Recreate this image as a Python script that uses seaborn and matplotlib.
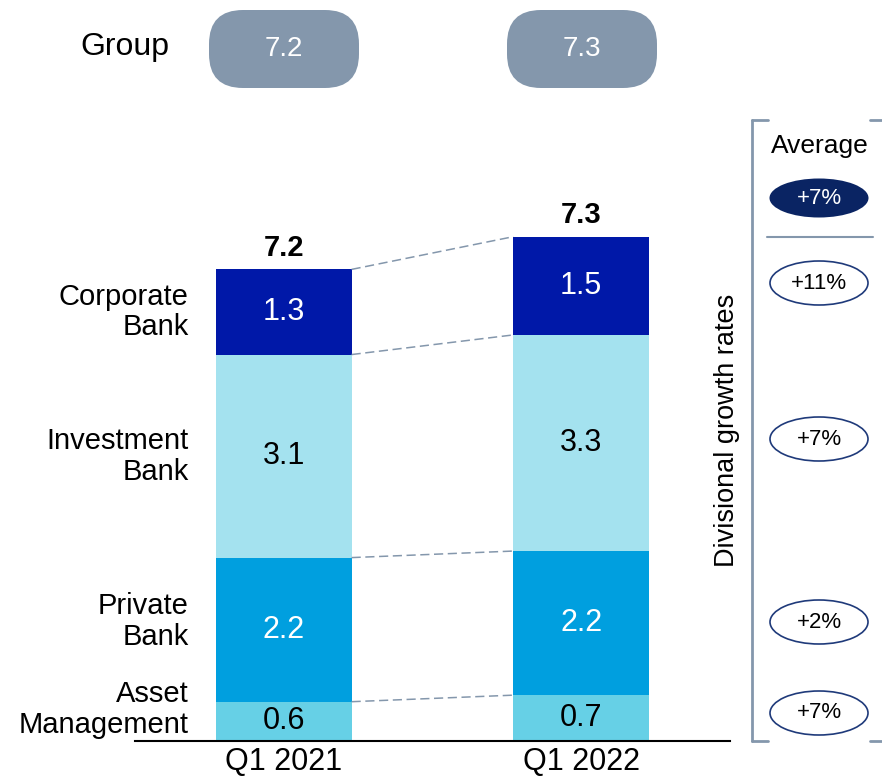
import numpy as np
import matplotlib
matplotlib.use("Agg")
import matplotlib.pyplot as plt
from matplotlib.patches import FancyBboxPatch, Ellipse
import seaborn as sns

# data
periods = ["Q1 2021", "Q1 2022"]
group_totals = ["7.2", "7.3"]
segments = ["Asset\nManagement", "Private\nBank", "Investment\nBank", "Corporate\nBank"]
asset_mgmt = [0.6, 0.7]
private_bank = [2.2, 2.2]
investment_bank = [3.1, 3.3]
corporate_bank = [1.3, 1.5]
growth_rates = ["+7%", "+2%", "+7%", "+11%"]
average_growth = "+7%"

seg_values = [asset_mgmt, private_bank, investment_bank, corporate_bank]
seg_colors = ["#66D0E6", "#009FDF", "#A4E2EF", "#0018A8"]
seg_text = ["black", "white", "black", "white"]

sns.set_theme(style="white")
plt.rcParams["font.family"] = ["Liberation Sans", "DejaVu Sans"]
plt.rcParams["text.color"] = "black"
plt.rcParams["xtick.color"] = "black"
plt.rcParams["xtick.labelcolor"] = "black"

fig = plt.figure(figsize=(8.82, 7.79), dpi=100)
ax = fig.add_axes([135 / 882, 38 / 779, 595 / 882, 8.3 * 65.5 / 779])

vals = np.array(seg_values)
tops = np.cumsum(vals, axis=0)
bottoms = tops - vals
bar_w = 0.456

# stacked bars drawn as overlapping cumulative layers, tallest first
for i in range(len(segments) - 1, -1, -1):
    sns.barplot(x=periods, y=tops[i], color=seg_colors[i], width=bar_w,
                saturation=1, errorbar=None, edgecolor="none", ax=ax)

ax.set_xlim(-0.5, 1.5)
ax.set_ylim(0, 8.3)
sns.despine(ax=ax, left=True, top=True, right=True)
ax.spines["bottom"].set_color("black")
ax.spines["bottom"].set_linewidth(1.5)
ax.set_yticks([])
ax.set_ylabel("")
ax.set_xlabel("")
ax.tick_params(axis="x", length=0, labelsize=22, pad=4, labelcolor="black")

# segment values
for i in range(len(segments)):
    for j in range(len(periods)):
        ax.text(j, bottoms[i, j] + vals[i, j] / 2, f"{vals[i, j]:.1f}",
                ha="center", va="center", fontsize=22, color=seg_text[i])

# totals above bars
for j in range(len(periods)):
    ax.text(j, tops[-1, j] + 0.12, group_totals[j], ha="center", va="bottom",
            fontsize=21, color="black", fontweight="bold")

# dashed connectors
for i in range(len(segments)):
    ax.plot([0 + bar_w / 2, 1 - bar_w / 2], [tops[i, 0], tops[i, 1]],
            ls=(0, (6, 3)), color="#8497AC", lw=1.1)

# segment names on the left
label_shift = [0.0, 0.12, 0.0, 0.0]
for i, name in enumerate(segments):
    y = bottoms[i, 0] + vals[i, 0] / 2 + label_shift[i]
    if i == 0:
        y = vals[0, 0] * 0.8
    ax.text(-0.32, y, name, ha="right", va="center", fontsize=21,
            linespacing=1.13, color="black")

# overlay in pixel coordinates for annotations
ov = fig.add_axes([0, 0, 1, 1])
ov.set_xlim(0, 882)
ov.set_ylim(779, 0)
ov.axis("off")
ov.patch.set_alpha(0)

ov.text(125, 47, "Group", ha="center", va="center", fontsize=23)
for cx, t in zip([284, 582], group_totals):
    pill = FancyBboxPatch((cx - 53, 32), 106, 34,
                          boxstyle="round,pad=22,rounding_size=34",
                          fc="#8497AC", ec="none")
    ov.add_patch(pill)
    ov.text(cx, 49, t, ha="center", va="center", fontsize=20, color="white")

# right bracket panel
bc = "#8497AC"
ov.plot([752, 752], [120, 741], color=bc, lw=2)
ov.plot([752, 768], [120, 120], color=bc, lw=2)
ov.plot([752, 768], [741, 741], color=bc, lw=2)
ov.plot([870, 882], [120, 120], color=bc, lw=2)
ov.plot([870, 882], [741, 741], color=bc, lw=2)
ov.plot([767, 873], [237, 237], color=bc, lw=1.5)

ov.text(820, 146, "Average", ha="center", va="center", fontsize=19)
ov.add_patch(Ellipse((819, 198), 99, 39, fc="#0A2463", ec="none"))
ov.text(819, 198, average_growth, ha="center", va="center", fontsize=16,
        color="white")

for y, g in zip([713, 622, 439, 283], growth_rates):
    ov.add_patch(Ellipse((819, y), 98, 44, fc="white", ec="#1F3A7A", lw=1.2))
    ov.text(819, y, g, ha="center", va="center", fontsize=16, color="black")

ov.text(727, 430, "Divisional growth rates", ha="center", va="center",
        rotation=90, fontsize=19.5)

fig.savefig("out.png", dpi=100)
